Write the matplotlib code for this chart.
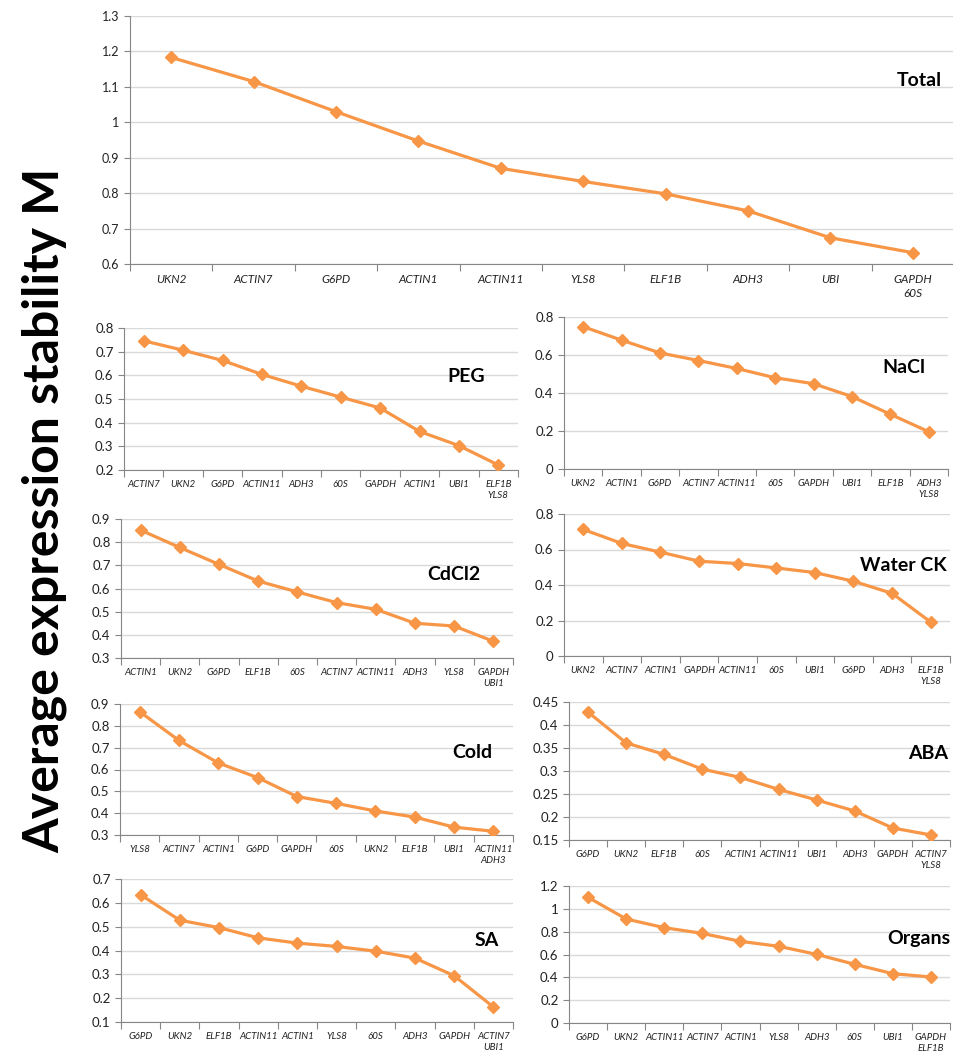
import matplotlib
matplotlib.use('Agg')
import matplotlib.pyplot as plt
from matplotlib.ticker import MultipleLocator, FixedLocator

plt.rcParams['font.family'] = ['Lato', 'DejaVu Sans']

# gene order and M values per condition
total_genes = ['UKN2', 'ACTIN7', 'G6PD', 'ACTIN1', 'ACTIN11', 'YLS8', 'ELF1B', 'ADH3', 'UBI', 'GAPDH\n60S']
total_vals = [1.183, 1.115, 1.030, 0.947, 0.870, 0.833, 0.798, 0.750, 0.674, 0.632]

peg_genes = ['ACTIN7', 'UKN2', 'G6PD', 'ACTIN11', 'ADH3', '60S', 'GAPDH', 'ACTIN1', 'UBI1', 'ELF1B\nYLS8']
peg_vals = [0.746, 0.706, 0.663, 0.604, 0.554, 0.508, 0.462, 0.363, 0.303, 0.221]

nacl_genes = ['UKN2', 'ACTIN1', 'G6PD', 'ACTIN7', 'ACTIN11', '60S', 'GAPDH', 'UBI1', 'ELF1B', 'ADH3\nYLS8']
nacl_vals = [0.749, 0.678, 0.611, 0.571, 0.529, 0.480, 0.449, 0.381, 0.288, 0.196]

cdcl2_genes = ['ACTIN1', 'UKN2', 'G6PD', 'ELF1B', '60S', 'ACTIN7', 'ACTIN11', 'ADH3', 'YLS8', 'GAPDH\nUBI1']
cdcl2_vals = [0.852, 0.777, 0.704, 0.632, 0.585, 0.539, 0.510, 0.450, 0.438, 0.372]

water_genes = ['UKN2', 'ACTIN7', 'ACTIN1', 'GAPDH', 'ACTIN11', '60S', 'UBI1', 'G6PD', 'ADH3', 'ELF1B\nYLS8']
water_vals = [0.713, 0.634, 0.585, 0.534, 0.521, 0.496, 0.470, 0.421, 0.353, 0.191]

cold_genes = ['YLS8', 'ACTIN7', 'ACTIN1', 'G6PD', 'GAPDH', '60S', 'UKN2', 'ELF1B', 'UBI1', 'ACTIN11\nADH3']
cold_vals = [0.865, 0.733, 0.630, 0.563, 0.476, 0.445, 0.410, 0.382, 0.336, 0.317]

aba_genes = ['G6PD', 'UKN2', 'ELF1B', '60S', 'ACTIN1', 'ACTIN11', 'UBI1', 'ADH3', 'GAPDH', 'ACTIN7\nYLS8']
aba_vals = [0.428, 0.361, 0.336, 0.304, 0.286, 0.260, 0.237, 0.213, 0.176, 0.161]

sa_genes = ['G6PD', 'UKN2', 'ELF1B', 'ACTIN11', 'ACTIN1', 'YLS8', '60S', 'ADH3', 'GAPDH', 'ACTIN7\nUBI1']
sa_vals = [0.634, 0.527, 0.496, 0.453, 0.431, 0.417, 0.397, 0.368, 0.294, 0.163]

organs_genes = ['G6PD', 'UKN2', 'ACTIN11', 'ACTIN7', 'ACTIN1', 'YLS8', 'ADH3', '60S', 'UBI1', 'GAPDH\nELF1B']
organs_vals = [1.101, 0.911, 0.835, 0.785, 0.715, 0.672, 0.601, 0.514, 0.432, 0.403]

W, H = 954, 1052
ORANGE = '#F79646'

fig = plt.figure(figsize=(W / 100, H / 100), dpi=100)

# pixel boxes (left, top, right, bottom) for each panel
def add_panel(box, genes, vals, ylim, ystep, name, name_pos,
              ysize=9.5, xsize=7, namesize=14):
    l, t, r, b = box
    ax = fig.add_axes([l / W, 1 - b / H, (r - l) / W, (b - t) / H])
    n = len(genes)
    x = [i + 0.5 for i in range(n)]
    ax.plot(x, vals, color=ORANGE, lw=2.3, marker='D', ms=6, zorder=3)
    ax.set_xlim(0, n)
    ax.set_ylim(*ylim)
    ax.yaxis.set_major_locator(MultipleLocator(ystep))
    ax.yaxis.set_major_formatter(plt.FuncFormatter(lambda v, p: ('%g' % round(v, 3))))
    ax.grid(axis='y', color='#d9d9d9', lw=1)
    ax.set_axisbelow(True)
    # category labels at centres, tick marks at boundaries
    ax.xaxis.set_major_locator(FixedLocator(range(n + 1)))
    ax.set_xticklabels([])
    ax.xaxis.set_minor_locator(FixedLocator(x))
    ax.set_xticklabels(genes, minor=True, fontsize=xsize, style='italic',
                       color='#222222', linespacing=1.35)
    ax.tick_params(axis='x', which='major', length=5, color='#868686')
    ax.tick_params(axis='x', which='minor', length=0, pad=7)
    ax.tick_params(axis='y', length=4, color='#868686', labelsize=ysize,
                   labelcolor='#222222')
    for s in ['top', 'right']:
        ax.spines[s].set_visible(False)
    for s in ['left', 'bottom']:
        ax.spines[s].set_color('#868686')
    ax.text(name_pos[0], name_pos[1], name, transform=ax.transAxes,
            ha='right', va='center', fontsize=namesize, fontweight='bold')
    return ax

add_panel((130, 16, 954, 264), total_genes, total_vals, (0.6, 1.3), 0.1,
          'Total', (0.985, 0.74), ysize=9, xsize=8.5)
add_panel((124, 328, 518, 470), peg_genes, peg_vals, (0.2, 0.8), 0.1,
          'PEG', (0.916, 0.655))
add_panel((564, 317, 948, 469), nacl_genes, nacl_vals, (0, 0.8), 0.2,
          'NaCl', (0.94, 0.67))
add_panel((121, 519, 513, 658), cdcl2_genes, cdcl2_vals, (0.3, 0.9), 0.1,
          'CdCl2', (0.918, 0.60))
add_panel((564, 514, 950, 656), water_genes, water_vals, (0, 0.8), 0.2,
          'Water CK', (0.99, 0.64))
add_panel((120, 704, 513, 835), cold_genes, cold_vals, (0.3, 0.9), 0.1,
          'Cold', (0.947, 0.626))
add_panel((569, 702, 950, 840), aba_genes, aba_vals, (0.15, 0.45), 0.05,
          'ABA', (0.995, 0.63))
add_panel((121, 879, 513, 1022), sa_genes, sa_vals, (0.1, 0.7), 0.1,
          'SA', (0.964, 0.573))
add_panel((569, 886, 950, 1023), organs_genes, organs_vals, (0, 1.2), 0.2,
          'Organs', (1.0, 0.62))

fig.text(45 / W, 1 - 510 / H, 'Average expression stability M', rotation=90,
         ha='center', va='center', fontsize=36, fontweight='bold')

fig.savefig('out.png', dpi=100)
